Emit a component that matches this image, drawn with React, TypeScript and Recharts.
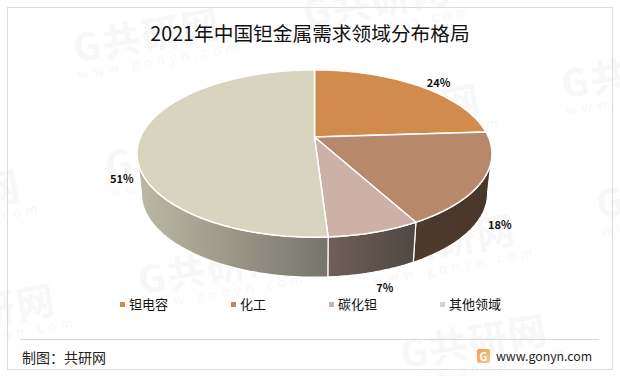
import { PieChart, Pie, Legend } from 'recharts'

const categories = ['钽电容', '化工', '碳化钽', '其他领域']
const shares = [24, 18, 7, 51]
const topColors = ['#D18C4D', '#B8886B', '#CDB0A6', '#D9D4C0']
const wallFrom = ['#8A5C33', '#4E3A2B', '#705E5A', '#BDB9A7']
const wallTo = ['#8A5C33', '#48362A', '#4F4842', '#77756A']
const labelNudges = [
  [20, -4],
  [21, 4],
  [12, 15],
  [-22, -2],
]
const watermarks = [
  [70, 28],
  [300, -7],
  [558, 64],
  [-130, 190],
  [102, 146],
  [330, 104],
  [593, 184],
  [-95, 304],
  [135, 260],
  [365, 234],
  [397, 334],
]

const CENTER_X = 314.5
const CENTER_Y = 137
const RADIUS = 174
const SQUASH = 0.462
const TILT = 0.1976
const DEPTH = 40
const FLOOR_SCALE = 0.975
const WALL_MIN = -169
const WALL_MAX = -11
const FONT = '"Noto Sans CJK SC", "Noto Sans", sans-serif'

const tableData = categories.map((name, i) => ({ name, value: shares[i] }))

function rim(deg: number, cx: number, cy: number, r: number) {
  const a = (deg * Math.PI) / 180
  const w = 1 + TILT * Math.sin(a)
  return { x: cx + (r * Math.cos(a)) / w, y: cy - (r * SQUASH * Math.sin(a)) / w }
}

function floor(deg: number, cx: number, cy: number, r: number) {
  const p = rim(deg, cx, cy, r)
  return { x: cx + (p.x - cx) * FLOOR_SCALE, y: p.y + DEPTH }
}

function steps(from: number, to: number) {
  const n = Math.max(2, Math.ceil(Math.abs(from - to)))
  return Array.from({ length: n + 1 }, (_, i) => from + ((to - from) * i) / n)
}

function toPath(points: Array<{ x: number; y: number }>) {
  return points.map((p, i) => `${i ? 'L' : 'M'}${p.x.toFixed(1)} ${p.y.toFixed(1)}`).join(' ') + ' Z'
}

function Slice3D(props: any) {
  const { cx, cy, outerRadius, startAngle, endAngle, fill, index } = props
  const hi = Math.min(startAngle, WALL_MAX)
  const lo = Math.max(endAngle, WALL_MIN)
  const wall =
    hi > lo
      ? [
          ...steps(hi, lo).map((d) => rim(d, cx, cy, outerRadius)),
          ...steps(lo, hi).map((d) => floor(d, cx, cy, outerRadius)),
        ]
      : null
  const top = [{ x: cx, y: cy }, ...steps(startAngle, endAngle).map((d) => rim(d, cx, cy, outerRadius))]
  return (
    <g>
      <defs>
        <linearGradient id={`wall-${index}`} x1="0" y1="0" x2="1" y2="0">
          <stop offset="0%" stopColor={wallFrom[index]} />
          <stop offset="100%" stopColor={wallTo[index]} />
        </linearGradient>
      </defs>
      {wall && <path d={toPath(wall)} fill={`url(#wall-${index})`} stroke="#fff" strokeWidth={1.2} />}
      <path d={toPath(top)} fill={fill} stroke="#fff" strokeWidth={1.5} strokeLinejoin="round" />
    </g>
  )
}

function SliceLabel(props: any) {
  const { cx, cy, outerRadius, midAngle, value, index } = props
  const seen = midAngle - 360 * Math.ceil((midAngle - 90) / 360)
  const lower = Math.sin((seen * Math.PI) / 180) < 0
  const p = lower ? floor(seen, cx, cy, outerRadius) : rim(seen, cx, cy, outerRadius)
  return (
    <text
      x={p.x + labelNudges[index][0]}
      y={p.y + labelNudges[index][1]}
      textAnchor="middle"
      dominantBaseline="central"
      fontFamily={FONT}
      fontSize={11}
      fontWeight={700}
      fill="#111"
    >
      {value}%
    </text>
  )
}

function LegendRow() {
  return (
    <div style={{ display: 'flex', fontFamily: FONT, fontSize: 13, color: '#111', lineHeight: '18px' }}>
      {categories.map((name, i) => (
        <div key={name} style={{ display: 'flex', alignItems: 'center', marginRight: 63 }}>
          <span style={{ width: 5, height: 5, background: topColors[i], marginRight: 4 }} />
          <span style={{ whiteSpace: 'nowrap' }}>{name}</span>
        </div>
      ))}
    </div>
  )
}

export default function App() {
  const data = tableData.map((d, i) => ({ ...d, fill: topColors[i] }))
  return (
    <div style={{ position: 'absolute', left: 0, top: 0, width: 620, height: 376, background: '#fff', overflow: 'hidden', fontFamily: FONT }}>
      {watermarks.map(([x, y], i) => (
        <div
          key={i}
          style={{
            position: 'absolute',
            left: x,
            top: y,
            transform: 'rotate(-10deg)',
            transformOrigin: '0 0',
            color: '#f7f7f7',
            fontWeight: 700,
            fontSize: 38,
            letterSpacing: 2,
            lineHeight: 1,
            whiteSpace: 'nowrap',
          }}
        >
          G共研网
          <div style={{ fontSize: 13, fontWeight: 400, letterSpacing: 5, marginTop: 2 }}>www.gonyn.com</div>
        </div>
      ))}
      <div style={{ position: 'absolute', left: 7, top: 7, width: 604, height: 361, border: '1px solid #dcdcdc' }} />
      <div style={{ position: 'absolute', left: 0, width: 620, top: 18, textAlign: 'center', fontSize: 19.7, lineHeight: '30px', color: '#111' }}>
        2021年中国钽金属需求领域分布格局
      </div>
      <div style={{ position: 'absolute', left: 0, top: 0 }}>
        <PieChart width={620} height={376} margin={{ top: 0, right: 0, bottom: 0, left: 0 }}>
          <Pie
            data={data}
            dataKey="value"
            nameKey="name"
            cx={CENTER_X}
            cy={CENTER_Y}
            outerRadius={RADIUS}
            startAngle={90}
            endAngle={-270}
            shape={Slice3D}
            label={SliceLabel}
            labelLine={false}
            stroke="none"
            isAnimationActive={false}
          />
          <Legend content={<LegendRow />} wrapperStyle={{ left: 120, top: 295, width: 480 }} />
        </PieChart>
      </div>
      <div style={{ position: 'absolute', left: 20, top: 339, width: 579, height: 1, background: '#d9d9d9' }} />
      <div style={{ position: 'absolute', left: 22, top: 347, fontSize: 14, lineHeight: '20px', color: '#222' }}>制图：共研网</div>
      <div
        style={{
          position: 'absolute',
          left: 477,
          top: 349,
          width: 13,
          height: 14,
          borderRadius: 2,
          background: 'linear-gradient(135deg, #f39a4d, #f9c98e)',
          color: '#fff',
          fontSize: 11,
          fontWeight: 700,
          lineHeight: '14px',
          textAlign: 'center',
        }}
      >
        G
      </div>
      <div style={{ position: 'absolute', left: 496, top: 347, fontSize: 12.3, lineHeight: '18px', color: '#222' }}>www.gonyn.com</div>
    </div>
  )
}
